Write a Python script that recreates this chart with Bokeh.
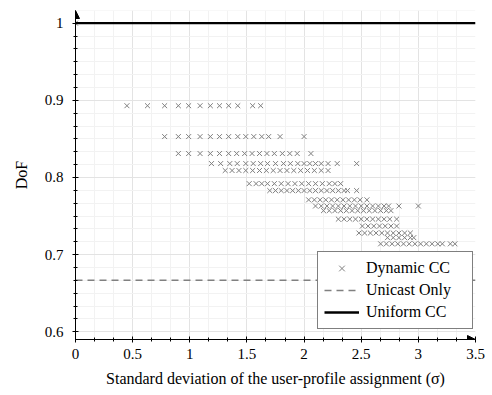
import numpy as np
from bokeh.plotting import figure
from bokeh.models import Range1d, FixedTicker, Arrow, NormalHead, Legend, LegendItem
from bokeh.embed import file_html
from bokeh.resources import INLINE

# ---- axis ticks ----
x_ticks = [0, 0.5, 1, 1.5, 2, 2.5, 3, 3.5]
x_tick_labels = ["0", "0.5", "1", "1.5", "2", "2.5", "3", "3.5"]
y_ticks = [0.6, 0.7, 0.8, 0.9, 1.0]
y_tick_labels = ["0.6", "0.7", "0.8", "0.9", "1"]

# ---- reference lines ----
x_span = [0.0, 3.5]
uniform_cc_dof = 1.0
unicast_only_dof = 0.6667

# ---- Dynamic CC scatter, one list of sigmas per DoF level ----
dof_levels = [1.0, 0.893, 0.853, 0.831, 0.818, 0.809, 0.792, 0.783,
              0.771, 0.763, 0.757, 0.746, 0.737, 0.728, 0.722, 0.714]
sig_1000 = [0.0]
sig_0893 = [0.45, 0.63, 0.78, 0.90, 0.99, 1.09, 1.18, 1.26, 1.34, 1.42, 1.55, 1.62]
sig_0853 = [0.78, 0.90, 0.99, 1.09, 1.18, 1.26, 1.34, 1.42, 1.49, 1.56, 1.63, 1.69,
            1.79, 2.00]
sig_0831 = [0.90, 0.99, 1.09, 1.18, 1.26, 1.34, 1.41, 1.48, 1.545, 1.61, 1.675, 1.74,
            1.81, 1.875, 1.94, 2.06]
sig_0818 = [1.19, 1.27, 1.35, 1.415, 1.49, 1.555, 1.62, 1.68, 1.75, 1.82, 1.88, 1.945,
            2.00, 2.05, 2.10, 2.15, 2.21, 2.29, 2.46]
sig_0809 = [1.31, 1.37, 1.43, 1.49, 1.55, 1.61, 1.67, 1.73, 1.79, 1.85, 1.91, 1.97,
            2.03, 2.09, 2.15, 2.21]
sig_0792 = [1.52, 1.58, 1.63, 1.68, 1.74, 1.80, 1.86, 1.92, 1.98, 2.04, 2.10, 2.16,
            2.22, 2.27, 2.32]
sig_0783 = [1.70, 1.75, 1.80, 1.85, 1.90, 1.95, 2.00, 2.05, 2.10, 2.15, 2.20, 2.25,
            2.30, 2.35, 2.38, 2.46]
sig_0771 = [2.04, 2.09, 2.14, 2.19, 2.24, 2.29, 2.34, 2.39, 2.44, 2.49, 2.55]
sig_0763 = [2.10, 2.15, 2.20, 2.25, 2.30, 2.35, 2.40, 2.45, 2.50, 2.55, 2.60, 2.65,
            2.70, 2.74, 2.83, 3.00]
sig_0757 = [2.17, 2.22, 2.27, 2.32, 2.37, 2.42, 2.47, 2.52, 2.57, 2.62, 2.67, 2.72, 2.76]
sig_0746 = [2.30, 2.35, 2.40, 2.45, 2.50, 2.55, 2.60, 2.65, 2.70, 2.75, 2.81]
sig_0737 = [2.51, 2.56, 2.61, 2.66, 2.71, 2.76, 2.81]
sig_0728 = [2.48, 2.53, 2.58, 2.63, 2.68, 2.73, 2.78, 2.83, 2.88, 2.93]
sig_0722 = [2.73, 2.78, 2.83, 2.88, 2.93, 2.96]
sig_0714 = [2.67, 2.72, 2.77, 2.82, 2.87, 2.92, 2.97, 3.02, 3.07, 3.12, 3.17, 3.21,
            3.28, 3.32]
sig_rows = [sig_1000, sig_0893, sig_0853, sig_0831, sig_0818, sig_0809, sig_0792,
            sig_0783, sig_0771, sig_0763, sig_0757, sig_0746, sig_0737, sig_0728,
            sig_0722, sig_0714]

dyn_x, dyn_y = [], []
for level, sigs in zip(dof_levels, sig_rows):
    dyn_x.extend(sigs)
    dyn_y.extend([level] * len(sigs))

SERIF = "Liberation Serif"
GRAY = "#808080"

p = figure(width=488, height=393, output_backend="svg", toolbar_location=None,
           x_range=Range1d(0, 3.5), y_range=Range1d(0.59, 1.0164),
           min_border_left=75, min_border_right=13, min_border_top=10,
           min_border_bottom=54)
p.outline_line_color = None
p.background_fill_color = "white"

x_minor = [float(v) for v in np.round(np.arange(0, 3.5001, 0.5 / 3), 5)]
y_minor = [float(v) for v in np.round(np.arange(0.6, 1.02, 0.1 / 6), 5)]
p.xaxis.ticker = FixedTicker(ticks=x_ticks, minor_ticks=x_minor)
p.yaxis.ticker = FixedTicker(ticks=y_ticks, minor_ticks=y_minor)
p.xaxis.major_label_overrides = {t: l for t, l in zip(x_ticks, x_tick_labels)}
p.yaxis.major_label_overrides = {t: l for t, l in zip(y_ticks, y_tick_labels)}

for ax in (p.xaxis, p.yaxis):
    ax.axis_line_color = "black"
    ax.axis_line_width = 1
    ax.major_tick_line_color = "black"
    ax.minor_tick_line_color = "black"
    ax.major_tick_in = 3
    ax.major_tick_out = 3
    ax.minor_tick_in = 2
    ax.minor_tick_out = 2
    ax.major_label_text_font = SERIF
    ax.major_label_text_font_size = "15px"
    ax.major_label_text_color = "black"
    ax.axis_label_text_font = SERIF
    ax.axis_label_text_font_size = "16px"
    ax.axis_label_text_font_style = "normal"
    ax.axis_label_text_color = "black"

p.xaxis.axis_label = "Standard deviation of the user-profile assignment (σ)"
p.yaxis.axis_label = "DoF"
p.xaxis.major_label_standoff = 6
p.yaxis.major_label_standoff = 9
p.xaxis.axis_label_standoff = 8
p.yaxis.axis_label_standoff = 12

p.xgrid.grid_line_color = "#e3e3e3"
p.ygrid.grid_line_color = "#e3e3e3"
p.xgrid.minor_grid_line_color = "#f2f2f2"
p.ygrid.minor_grid_line_color = "#f2f2f2"

r_uni = p.line(x_span, [unicast_only_dof] * 2, line_color=GRAY, line_width=1.6,
               line_dash="7 5")
r_dyn = p.scatter(dyn_x, dyn_y, marker="x", size=7, line_color=GRAY, line_width=1)
r_unif = p.line(x_span, [uniform_cc_dof] * 2, line_color="black", line_width=2.4)

legend = Legend(items=[LegendItem(label="Dynamic CC", renderers=[r_dyn]),
                       LegendItem(label="Unicast Only", renderers=[r_uni]),
                       LegendItem(label="Uniform CC", renderers=[r_unif])],
                location=(242, 10), border_line_color="black", border_line_width=1,
                background_fill_color="white", background_fill_alpha=1,
                glyph_width=35, glyph_height=20, label_standoff=7, padding=6,
                spacing=2, label_height=20, label_width=100, margin=0)
legend.label_text_font = SERIF
legend.label_text_font_size = "16px"
legend.label_text_color = "black"
p.add_layout(legend)

p.add_layout(Arrow(end=NormalHead(size=8, fill_color="black", line_color="black"),
                   x_start=3.3, y_start=0.59, x_end=3.5, y_end=0.59,
                   line_color="black", line_width=1, level="overlay"))
p.add_layout(Arrow(end=NormalHead(size=8, fill_color="black", line_color="black"),
                   x_start=0, y_start=0.98, x_end=0, y_end=1.0164,
                   line_color="black", line_width=1, level="overlay"))

open("out.html", "w").write(file_html(p, INLINE))
